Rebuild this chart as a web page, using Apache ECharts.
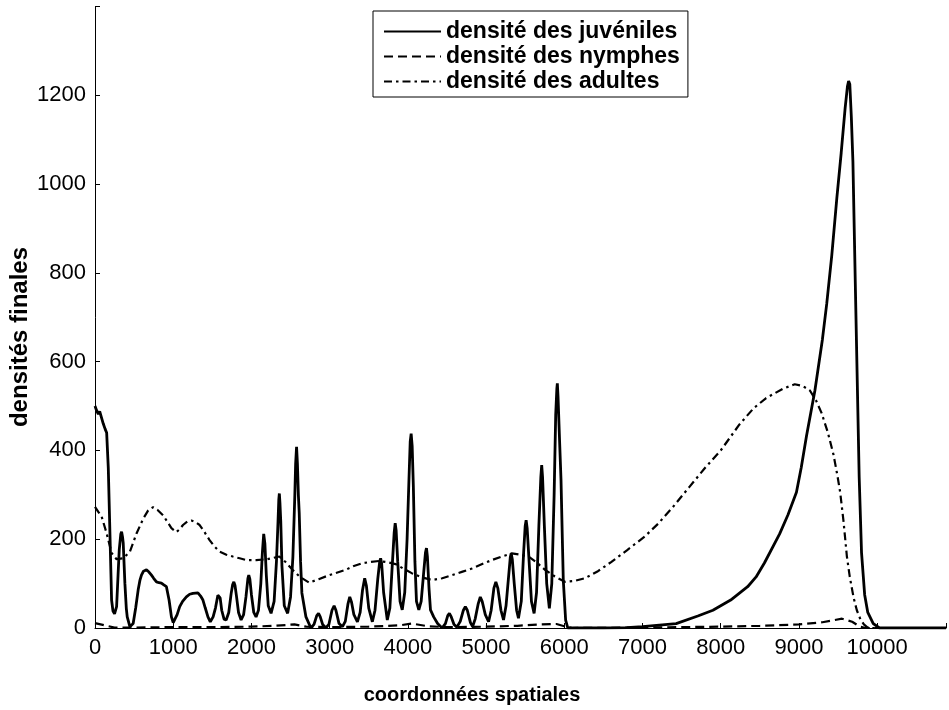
<!DOCTYPE html>
<html>
<head>
<meta charset="utf-8">
<script src="https://cdn.jsdelivr.net/npm/echarts@6/dist/echarts.min.js"></script>
<style>
html,body{margin:0;padding:0;background:#fff;}
#chart{width:949px;height:710px;}
</style>
</head>
<body>
<div id="chart"></div>
<script>
// ---- data ----
var seriesNames = ['densité des juvéniles', 'densité des nymphes', 'densité des adultes'];
var xTicks = [0, 1000, 2000, 3000, 4000, 5000, 6000, 7000, 8000, 9000, 10000];
var yTicks = [0, 200, 400, 600, 800, 1000, 1200];

var juvX = [0,20,42,60,85,106,130,149,170,191,212,230,250,276,295,310,330,340,352,361,382,400,412,446,488,520,552,575,594,620,658,690,722,750,786,820,849,880,913,947,977,1000,1019,1050,1083,1120,1168,1210,1252,1316,1350,1380,1410,1444,1474,1510,1540,1571,1585,1600,1620,1650,1677,1710,1741,1760,1775,1790,1810,1835,1868,1900,1930,1955,1966,1980,2000,2030,2059,2090,2120,2140,2157,2172,2190,2215,2251,2290,2320,2340,2350,2357,2365,2375,2390,2420,2463,2500,2530,2555,2565,2577,2588,2600,2611,2628,2645,2697,2760,2800,2835,2858,2880,2910,2951,2990,3030,3057,3080,3120,3164,3200,3235,3257,3280,3310,3355,3390,3420,3448,3470,3500,3546,3580,3615,3640,3652,3665,3690,3737,3770,3800,3825,3838,3850,3870,3900,3928,3960,3990,4015,4030,4042,4055,4070,4090,4110,4140,4170,4200,4225,4238,4250,4270,4289,4330,4380,4437,4480,4510,4531,4555,4590,4627,4670,4710,4735,4760,4800,4828,4860,4900,4926,4950,4990,5032,5065,5100,5125,5150,5190,5223,5255,5290,5310,5321,5335,5360,5390,5414,5450,5480,5500,5512,5525,5550,5580,5614,5645,5675,5700,5711,5722,5745,5775,5809,5840,5870,5890,5905,5911,5920,5940,5958,5975,5987,6017,6045,6500,6800,7000,7430,7707,7900,8127,8344,8452,8560,8753,8860,8968,9030,9097,9204,9300,9355,9420,9484,9540,9591,9620,9635,9650,9670,9690,9720,9745,9770,9800,9840,9880,9950,10030,10880];
var juvY = [500,490,482,488,486,460,448,440,360,213,63,38,32,48,120,176,212,217,205,191,101,45,25,3,10,45,86,108,119,128,131,126,119,112,104,102,101,97,93,63,25,12,12,30,48,60,70,76,78,79,72,63,45,25,14,25,45,74,75,68,40,20,18,35,78,98,104,96,70,35,18,30,70,112,119,110,75,35,25,40,100,170,212,190,120,50,33,60,150,240,290,303,280,240,140,50,33,70,160,300,370,408,370,300,259,150,79,25,0,8,28,33,25,8,0,8,40,50,40,10,3,15,55,70,58,30,14,35,85,112,95,45,14,40,110,150,157,145,80,18,45,140,215,236,220,150,60,41,80,200,340,420,438,410,320,150,60,41,60,120,170,180,160,90,41,25,10,0,10,28,33,25,8,2,15,40,48,40,12,3,20,55,70,60,30,14,40,90,104,90,40,18,50,120,160,168,155,100,40,22,60,170,230,243,225,150,60,33,80,230,340,367,340,230,100,44,100,300,480,540,551,520,420,333,200,108,18,0,0,1,3,10,27,40,63,93,115,147,212,255,306,362,433,535,650,730,840,968,1070,1172,1220,1232,1225,1150,1050,780,560,340,170,75,35,10,0,0];

var nymX = [0,100,250,500,1000,1500,2000,2300,2550,2700,3000,3500,3900,4050,4250,4500,5000,5400,5700,5900,6000,6100,7000,8000,8500,9000,9300,9550,9680,9780,9850,10880];
var nymY = [11,7,1,1,2,2,3,5,8,3,2,3,6,10,4,2,3,5,8,9,4,0,1,3,5,8,13,21,14,3,0,0];

var adX = [0,40,85,149,212,276,361,446,531,616,680,743,800,870,930,977,1040,1080,1125,1180,1231,1280,1338,1400,1465,1530,1592,1680,1762,1850,1932,2060,2200,2357,2440,2526,2620,2739,2860,2994,3100,3206,3300,3418,3530,3631,3743,3843,3950,4055,4180,4310,4440,4565,4700,4819,4950,5074,5200,5329,5440,5541,5650,5754,5880,6008,6130,6263,6430,6603,6800,7028,7200,7400,7600,7806,8000,8237,8420,8581,8796,8946,9050,9140,9220,9290,9370,9441,9490,9527,9570,9613,9650,9699,9740,9785,9830,9871,9920,10880];
var adY = [273,262,251,213,169,155,157,172,213,246,265,272,266,254,238,225,216,222,232,240,242,239,232,216,198,183,172,165,161,157,153,153,155,161,148,131,115,102,110,119,125,131,139,146,149,151,148,144,133,123,114,108,112,119,127,134,144,153,161,168,165,161,147,131,116,104,106,112,128,149,175,206,235,275,318,362,400,458,495,518,539,549,545,535,512,484,440,391,345,306,240,161,115,68,40,20,8,2,0,0];

function pairs(xs, ys) { return xs.map(function (x, i) { return [x, ys[i]]; }); }

var FONT = 'Liberation Sans, Arial, Helvetica, sans-serif';
var chart = echarts.init(document.getElementById('chart'), null, {renderer: 'canvas'});
chart.setOption({
  animation: false,
  backgroundColor: '#ffffff',
  grid: {left: 95, right: 0, top: 6.5, bottom: 82, containLabel: false},
  legend: {
    orient: 'vertical',
    left: 373, top: 11,
    padding: [9, 8, 4, 10],
    itemGap: 2,
    itemWidth: 57, itemHeight: 14,
    borderColor: '#000', borderWidth: 1, borderRadius: 0,
    backgroundColor: '#fff',
    itemStyle: {opacity: 0},
    textStyle: {fontFamily: FONT, fontSize: 23, fontWeight: 'bold', color: '#000', lineHeight: 23},
    data: seriesNames
  },
  xAxis: {
    type: 'value', min: 0, max: 10880, interval: 1000,
    axisLine: {show: true, onZero: false, lineStyle: {color: '#000', width: 1}},
    axisTick: {show: true, inside: true, length: 5, lineStyle: {color: '#000'}},
    splitLine: {show: false},
    axisLabel: {
      fontFamily: FONT, fontSize: 22, color: '#000', margin: 9,
      formatter: function (v) { return xTicks.indexOf(v) >= 0 ? String(v) : ''; }
    }
  },
  yAxis: {
    type: 'value', min: 0, max: 1400, interval: 200,
    axisLine: {show: true, lineStyle: {color: '#000', width: 1}},
    axisTick: {show: true, inside: true, length: 5, lineStyle: {color: '#000'}},
    splitLine: {show: false},
    axisLabel: {
      fontFamily: FONT, fontSize: 22, color: '#000', margin: 9,
      formatter: function (v) { return yTicks.indexOf(v) >= 0 ? String(v) : ''; }
    }
  },
  graphic: [
    {type: 'text', x: 472, y: 695,
      style: {text: 'coordonnées spatiales', fontFamily: FONT, fontSize: 20, fontWeight: 'bold', fill: '#000', align: 'center', verticalAlign: 'middle'}},
    {type: 'text', x: 20, y: 337, rotation: Math.PI / 2,
      style: {text: 'densités finales', fontFamily: FONT, fontSize: 24, fontWeight: 'bold', fill: '#000', align: 'center', verticalAlign: 'middle'}}
  ],
  series: [
    {name: seriesNames[0], type: 'line', data: pairs(juvX, juvY), symbol: 'none', showSymbol: false,
      lineStyle: {color: '#000', width: 2.8, type: 'solid'}, itemStyle: {color: '#000'}},
    {name: seriesNames[1], type: 'line', data: pairs(nymX, nymY), symbol: 'none', showSymbol: false,
      lineStyle: {color: '#000', width: 2.2, type: [9, 5]}, itemStyle: {color: '#000'}},
    {name: seriesNames[2], type: 'line', data: pairs(adX, adY), symbol: 'none', showSymbol: false,
      lineStyle: {color: '#000', width: 2.2, type: [8, 4, 2.5, 4]}, itemStyle: {color: '#000'}}
  ]
});
</script>
</body>
</html>
